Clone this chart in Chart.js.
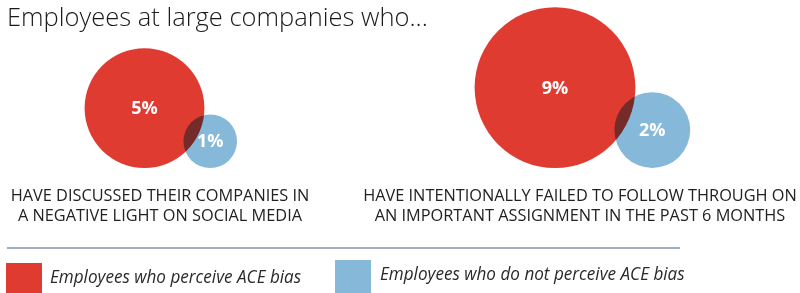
<!DOCTYPE html>
<html>
<head>
<meta charset="utf-8">
<script src="https://cdn.jsdelivr.net/npm/chart.js@4"></script>
<style>
  html, body { margin: 0; padding: 0; background: #fff; }
  #wrap { width: 800px; height: 293px; position: relative; }
</style>
</head>
<body>
<div id="wrap"><canvas id="chart"></canvas></div>
<script>
// data
const categories = [
    ["HAVE DISCUSSED THEIR COMPANIES IN", "A NEGATIVE LIGHT ON SOCIAL MEDIA"],
    ["HAVE INTENTIONALLY FAILED TO FOLLOW THROUGH ON", "AN IMPORTANT ASSIGNMENT IN THE PAST 6 MONTHS"]
];
const perceiveBias = [5, 9];
const noPerceiveBias = [1, 2];
const seriesNames = ["Employees who perceive ACE bias", "Employees who do not perceive ACE bias"];
const titleText = "Employees at large companies who...";

// layout
const W = 800;
const H = 293;
const RED = "#e03b31";
const BLUE = "#85b8d9";
const groupX = [144.5, 555];   // centre of the big circle in each group
const labelX = [160, 580];     // centre of the caption under each group
const baseY = 168;             // circles sit on this line
const overlap = 21;
const rScale = 26.8;           // radius = rScale * sqrt(percent)

function radius(v) {
    return rScale * Math.sqrt(v);
}

var redPoints = [];
var bluePoints = [];
var maxR = 0;
for (var i = 0; i < categories.length; i++) {
    var rr = radius(perceiveBias[i]);
    var rb = radius(noPerceiveBias[i]);
    maxR = Math.max(maxR, rr, rb);
    redPoints.push({ x: groupX[i], y: baseY - rr, r: rr, v: perceiveBias[i] });
    bluePoints.push({ x: groupX[i] + rr + rb - overlap, y: baseY - rb, r: rb, v: noPerceiveBias[i] });
}
// bubble charts pad the chart area by the largest radius; the scale
// bounds follow that so one unit stays one pixel
const pad = maxR;

const blendPlugin = {
    id: "blend",
    beforeDatasetsDraw: function(chart) {
        chart.ctx.save();
        chart.ctx.globalCompositeOperation = "multiply";
    },
    afterDatasetsDraw: function(chart) {
        chart.ctx.restore();
    }
};

function squeezeText(ctx, text, x, y, sx, align) {
    ctx.save();
    ctx.translate(x, y);
    ctx.scale(sx, 1);
    ctx.textAlign = align;
    ctx.fillText(text, 0, 0);
    ctx.restore();
}

const textPlugin = {
    id: "texts",
    afterDraw: function(chart) {
        var ctx = chart.ctx;
        ctx.save();

        // value labels
        ctx.fillStyle = "#fff";
        ctx.font = "bold 18px 'Open Sans'";
        ctx.textAlign = "center";
        ctx.textBaseline = "middle";
        chart.data.datasets.forEach(function(ds, di) {
            var meta = chart.getDatasetMeta(di);
            meta.data.forEach(function(el, j) {
                ctx.fillText(ds.data[j].v + "%", el.x, el.y + 1);
            });
        });

        // title
        ctx.textBaseline = "alphabetic";
        ctx.fillStyle = "#1a1a1a";
        ctx.font = "300 25.5px 'Open Sans'";
        squeezeText(ctx, titleText, 7, 26, 1, "left");

        // captions
        ctx.fillStyle = "#222";
        ctx.font = "17px 'Open Sans'";
        for (var i = 0; i < categories.length; i++) {
            squeezeText(ctx, categories[i][0], labelX[i], 201, 0.96, "center");
            squeezeText(ctx, categories[i][1], labelX[i], 221, 0.96, "center");
        }

        // separator
        ctx.strokeStyle = "#7d93b3";
        ctx.lineWidth = 1.5;
        ctx.beginPath();
        ctx.moveTo(7, 248);
        ctx.lineTo(680, 248);
        ctx.stroke();

        // legend
        ctx.fillStyle = RED;
        ctx.fillRect(6, 263, 36, 32);
        ctx.fillStyle = BLUE;
        ctx.fillRect(335, 260, 36, 33);
        ctx.fillStyle = "#2a2a2a";
        ctx.font = "italic 19px 'Open Sans'";
        squeezeText(ctx, seriesNames[0], 50, 283, 0.9, "left");
        squeezeText(ctx, seriesNames[1], 380, 280, 0.9, "left");
        ctx.restore();
    }
};

new Chart(document.getElementById("chart"), {
    type: "bubble",
    data: {
        datasets: [{
            label: seriesNames[0],
            data: redPoints,
            backgroundColor: RED,
            borderWidth: 0,
            clip: false
        }, {
            label: seriesNames[1],
            data: bluePoints,
            backgroundColor: BLUE,
            borderWidth: 0,
            clip: false
        }]
    },
    options: {
        responsive: true,
        maintainAspectRatio: false,
        animation: false,
        events: [],
        layout: { padding: 0 },
        plugins: {
            legend: { display: false },
            tooltip: { enabled: false }
        },
        scales: {
            x: { type: "linear", min: pad, max: W - pad, display: false },
            y: { type: "linear", min: pad, max: H - pad, reverse: true, display: false }
        }
    },
    plugins: [blendPlugin, textPlugin]
});
</script>
</body>
</html>
